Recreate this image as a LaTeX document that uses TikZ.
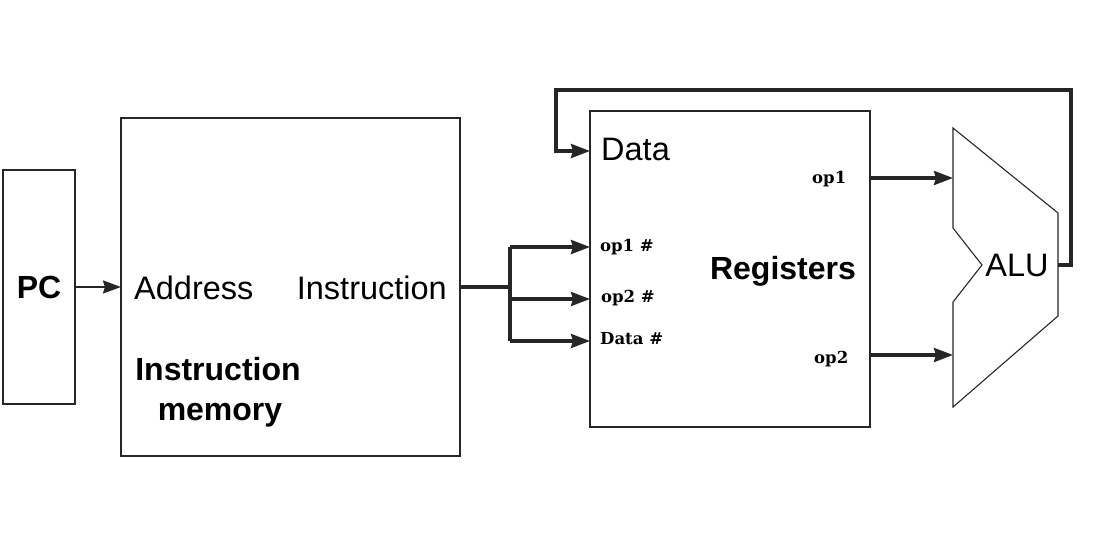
\documentclass[tikz,border=0pt]{standalone}
\usepackage{fontspec}
\newfontfamily\hv{Liberation Sans}
\newfontfamily\dvs{DejaVu Serif}
\usetikzlibrary{arrows.meta}
\begin{document}
\begin{tikzpicture}[x=1pt,y=-1pt,
  box/.style={draw=black!85,line width=1.3pt},
  bus/.style={line width=3.2pt,draw=black!85,-{Stealth[length=19pt,width=14pt,inset=2pt]}},
  thinbus/.style={line width=2.2pt,draw=black!85,-{Stealth[length=18pt,width=13pt,inset=2pt]}},
  big/.style={font=\hv\fontsize{32.5}{38}\selectfont,inner sep=0pt},
  bigb/.style={font=\hv\bfseries\fontsize{32}{38}\selectfont,inner sep=0pt},
  small/.style={font=\dvs\bfseries\fontsize{16.5}{19}\selectfont,inner sep=0pt}]
\useasboundingbox (0,0) rectangle (1099,533);

% blocks
\draw[box] (3,170) rectangle (75,404);
\draw[box] (121,118) rectangle (460,456);
\draw[box] (590,111) rectangle (870,427);
\draw[box,line width=1.1pt] (953,128) -- (1058,213) -- (1058,316) -- (953,407)
  -- (953,302) -- (982,265) -- (953,228) -- cycle;

% named anchor points
\coordinate (pcout) at (75,287);
\coordinate (imin) at (121,287);
\coordinate (imout) at (460,287);
\coordinate (jn) at (510,287);
\coordinate (r1) at (590,247);
\coordinate (r2) at (590,299);
\coordinate (r3) at (590,341);
\coordinate (rd) at (590,151);
\coordinate (o1) at (870,178);
\coordinate (o2) at (870,355);
\coordinate (a1) at (953,178);
\coordinate (a2) at (953,355);
\coordinate (aout) at (1058,265);

% texts
\node[bigb,anchor=base] (pc) at (39,298) {PC};
\node[big,anchor=base west] (addr) at (134,299) {Address};
\node[big,anchor=base east] (instr) at (447,299) {Instruction};
\node[bigb,anchor=base,align=center] (imem) at (218,420) {Instruction\\[2pt]\hspace*{4pt}memory};
\node[big,anchor=base west] (data) at (601,160) {Data};
\node[bigb,anchor=base] (regs) at (783,279) {Registers};
\node[big,anchor=base] (alu) at (1017,276) {ALU};
\node[small,anchor=base west] (l1) at (600,251) {op1 \#};
\node[small,anchor=base west] (l2) at (601,302) {op2 \#};
\node[small,anchor=base west] (l3) at (600,344) {Data \#};
\node[small,anchor=base west] (lo1) at (812,183) {op1};
\node[small,anchor=base west] (lo2) at (814,363) {op2};

% connectors
\draw[thinbus] (pcout) -- (imin);
\draw[line width=3.2pt,draw=black!85] (imout) -- (jn);
\draw[line width=3.2pt,draw=black!85] (jn |- r1) -- (jn |- r3);
\draw[bus] (jn |- r1) -- (r1);
\draw[bus] (jn |- r2) -- (r2);
\draw[bus] (jn |- r3) -- (r3);
\draw[bus] (o1) -- (a1);
\draw[bus] (o2) -- (a2);
\draw[bus] (aout) -- (1071,265) -- (1071,90) -- (556,90) -- (556,151) -- (rd);
\end{tikzpicture}
\end{document}
